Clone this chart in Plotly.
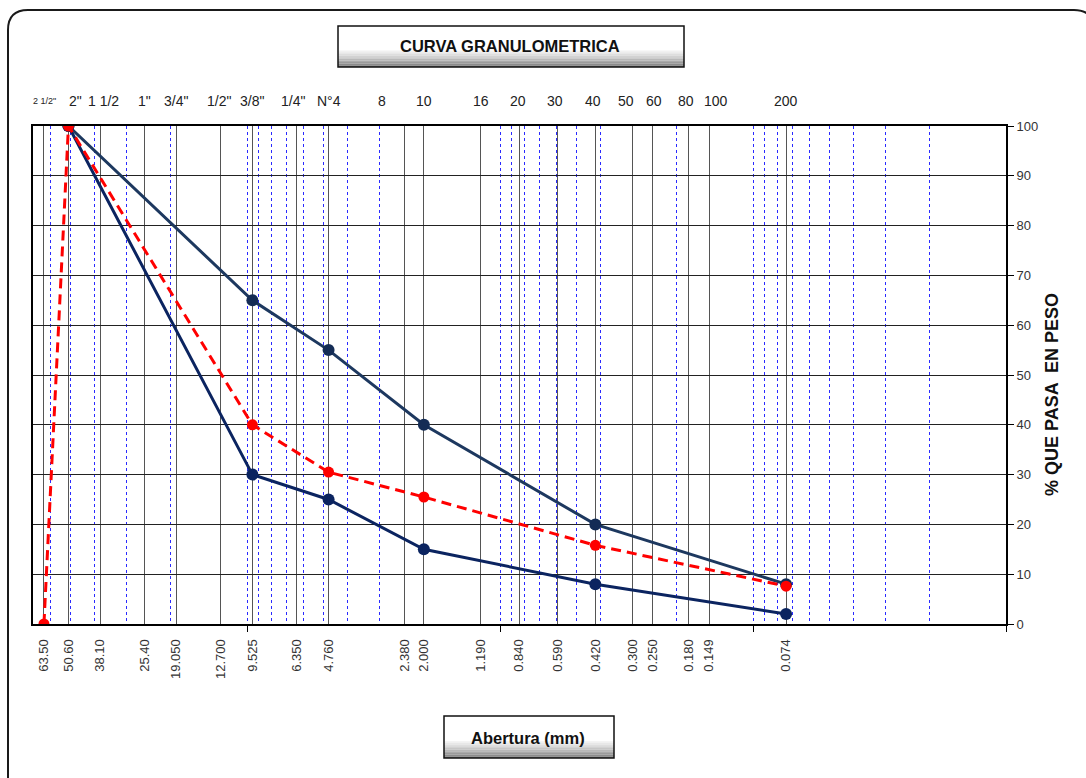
import math
import plotly.graph_objects as go

# ---------------- data ----------------
sieve_sizes = [63.5, 50.8, 38.1, 25.4, 19.05, 12.7, 9.525, 6.35, 4.76, 2.38, 2.0,
               1.19, 0.84, 0.59, 0.42, 0.3, 0.25, 0.18, 0.149, 0.074]
bottom_labels = ["63.50", "50.60", "38.10", "25.40", "19.050", "12.700", "9.525",
                 "6.350", "4.760", "2.380", "2.000", "1.190", "0.840", "0.590",
                 "0.420", "0.300", "0.250", "0.180", "0.149", "0.074"]
top_labels = ['2 1/2"', '2"', '1 1/2', '1"', '3/4"', '1/2"', '3/8"', '1/4"', 'N°4',
              '8', '10', '16', '20', '30', '40', '50', '60', '80', '100', '200']

upper_x = [50.8, 9.525, 4.76, 2.0, 0.42, 0.074]
upper_y = [100, 65, 55, 40, 20, 8]
lower_x = [50.8, 9.525, 4.76, 2.0, 0.42, 0.074]
lower_y = [100, 30, 25, 15, 8, 2]
sample_x = [63.5, 50.8, 9.525, 4.76, 2.0, 0.42, 0.074]
sample_y = [0, 100, 40, 30.5, 25.5, 15.8, 7.6]

minor_vals = [m * 10 ** e for e in (-2, -1, 0, 1) for m in range(1, 10)]
decade_ticks = [10, 1, 0.1, 0.01]
y_ticks = list(range(0, 101, 10))

# ---------------- styles ----------------
top_shift = [1, 7, 3, 0, 0, -2, 0, -4, 0, -23, 0, 0, -1, -3, -2, -6, 2, -2, 7, 0]
top_size = [9] + [14] * 19
FONT = "Liberation Sans Narrow, Arial Narrow, Liberation Sans, Arial, sans-serif"
BOLD = "Liberation Sans, Arial, sans-serif"

L, R, T, B = 33, 1006, 126, 624
W, H = 1086, 778
xrange_ = [1.846, -2]


def fx(px):
    return (px - L) / (R - L)


def fy(py):
    return (B - py) / (B - T)


fig = go.Figure()

fig.add_trace(go.Scatter(x=upper_x, y=upper_y, mode="lines+markers",
                         line=dict(color="#1d385f", width=3),
                         marker=dict(color="#142c55", size=12),
                         showlegend=False, hoverinfo="x+y"))
fig.add_trace(go.Scatter(x=lower_x, y=lower_y, mode="lines+markers",
                         line=dict(color="#0b2460", width=3),
                         marker=dict(color="#0b2460", size=12),
                         showlegend=False, hoverinfo="x+y"))
fig.add_trace(go.Scatter(x=sample_x, y=sample_y, mode="lines+markers",
                         line=dict(color="#ff0000", width=3, dash="10px,6px"),
                         marker=dict(color="#ff0000", size=11),
                         showlegend=False, hoverinfo="x+y"))
# carrier trace for the decade tick axis
fig.add_trace(go.Scatter(x=decade_ticks, y=[None] * len(decade_ticks), xaxis="x2",
                         yaxis="y", mode="lines", showlegend=False, hoverinfo="skip"))

shapes = []


def P(px, py):
    return f"{fx(px):.5f},{fy(py):.5f}"


# outer rounded frame
x0, y0, x1, y1, r = 8, 10, 1094, 800, 20
path = (f"M{P(x0 + r, y0)} L{P(x1 - r, y0)} Q{P(x1, y0)} {P(x1, y0 + r)} "
        f"L{P(x1, y1 - r)} Q{P(x1, y1)} {P(x1 - r, y1)} L{P(x0 + r, y1)} "
        f"Q{P(x0, y1)} {P(x0, y1 - r)} L{P(x0, y0 + r)} Q{P(x0, y0)} {P(x0 + r, y0)} Z")
shapes.append(dict(type="path", xref="paper", yref="paper", path=path,
                   line=dict(color="#1a1a1a", width=2)))


def gradient_box(bx0, by0, bx1, by1):
    out = [dict(type="rect", xref="paper", yref="paper", x0=fx(bx0), x1=fx(bx1),
                y0=fy(by1), y1=fy(by0), fillcolor="white", line=dict(width=0))]
    h = by1 - by0
    start = by0 + 0.6 * h
    n = 10
    step = (by1 - start) / n
    for i in range(n):
        g = int(248 - (248 - 125) * ((i + 1) / n) ** 1.3)
        out.append(dict(type="rect", xref="paper", yref="paper",
                        x0=fx(bx0), x1=fx(bx1),
                        y0=fy(start + (i + 1) * step), y1=fy(start + i * step),
                        fillcolor=f"rgb({g},{g},{g})", line=dict(width=0)))
    out.append(dict(type="rect", xref="paper", yref="paper", x0=fx(bx0), x1=fx(bx1),
                    y0=fy(by1), y1=fy(by0), fillcolor="rgba(0,0,0,0)",
                    line=dict(color="#111", width=1.5)))
    return out


shapes += gradient_box(338, 26, 684, 67)
shapes += gradient_box(444, 716, 614, 758)

annotations = []
for val, lab, sh, sz in zip(sieve_sizes, top_labels, top_shift, top_size):
    annotations.append(dict(x=math.log10(val), xref="x", y=fy(101), yref="paper",
                            text=lab, showarrow=False, xshift=sh,
                            font=dict(family=FONT, size=sz, color="#222"),
                            xanchor="center", yanchor="middle"))
annotations.append(dict(x=fx(510), y=fy(46), xref="paper", yref="paper",
                        text="<b>CURVA GRANULOMETRICA</b>", showarrow=False,
                        font=dict(family=BOLD, size=16.5, color="#111"),
                        xanchor="center", yanchor="middle"))
annotations.append(dict(x=fx(528), y=fy(738), xref="paper", yref="paper",
                        text="<b>Abertura (mm)</b>", showarrow=False,
                        font=dict(family=BOLD, size=16.5, color="#111"),
                        xanchor="center", yanchor="middle"))
annotations.append(dict(x=fx(1052), y=fy(395), xref="paper", yref="paper",
                        text="<b>% QUE PASA  EN PESO</b>", showarrow=False,
                        textangle=-90,
                        font=dict(family=BOLD, size=18, color="#111"),
                        xanchor="center", yanchor="middle"))

fig.update_layout(
    width=W, height=H,
    margin=dict(l=L, r=W - R, t=T, b=H - B, pad=0),
    paper_bgcolor="white", plot_bgcolor="white",
    showlegend=False,
    xaxis=dict(type="log", range=xrange_, tickmode="array", tickvals=sieve_sizes,
               ticktext=bottom_labels, tickangle=-90, ticks="",
               ticklabelstandoff=8,
               tickfont=dict(family=FONT, size=13, color="#333"),
               showgrid=True, gridcolor="#555", gridwidth=1.2,
               minor=dict(tickmode="array", tickvals=minor_vals, showgrid=True,
                          gridcolor="#2a2aff", griddash="3px,3px", gridwidth=1,
                          ticks=""),
               showline=True, linecolor="black", linewidth=2, mirror=True,
               zeroline=False, automargin=False),
    xaxis2=dict(type="log", range=xrange_, overlaying="x", side="bottom",
                tickmode="array", tickvals=decade_ticks, ticks="outside",
                ticklen=7, tickwidth=1, tickcolor="black", showticklabels=False,
                showgrid=False, showline=False, zeroline=False, automargin=False),
    yaxis=dict(range=[0, 100], side="right", tickmode="array", tickvals=y_ticks,
               ticks="outside", ticklen=6, tickcolor="black", tickwidth=1,
               tickfont=dict(family=FONT, size=13, color="#333"),
               showgrid=True, gridcolor="#222", gridwidth=1.3,
               showline=True, linecolor="black", linewidth=2, mirror=True,
               zeroline=False, automargin=False),
    shapes=shapes,
    annotations=annotations,
)

fig.write_html("out.html")
